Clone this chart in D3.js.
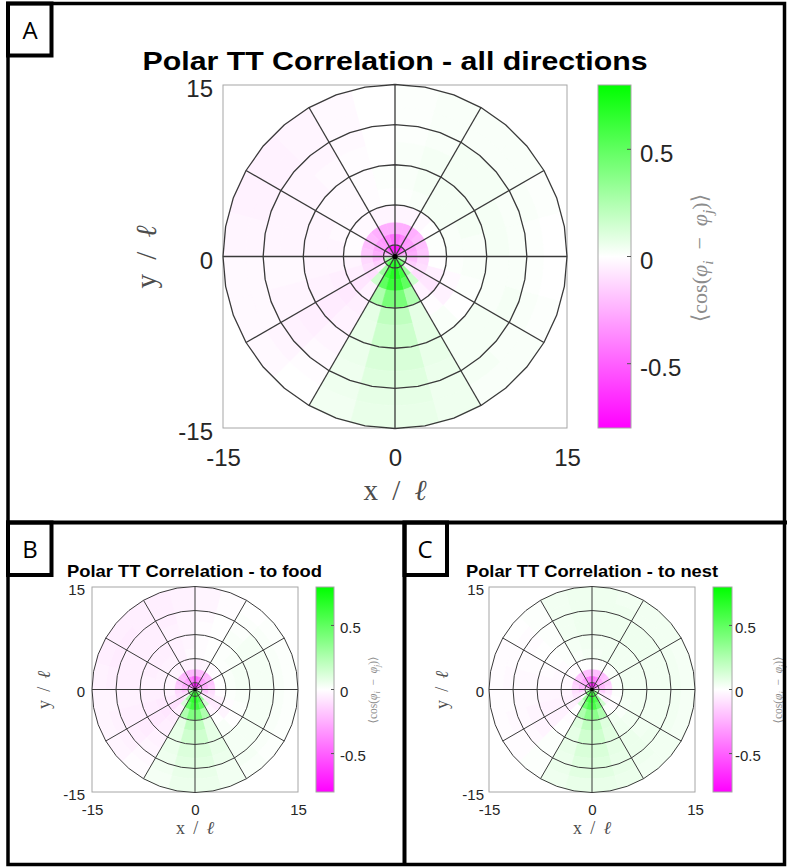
<!DOCTYPE html>
<html>
<head>
<meta charset="utf-8">
<script src="https://cdn.jsdelivr.net/npm/d3@7"></script>
<style>
  html, body { margin: 0; padding: 0; background: #fff; }
  svg { display: block; }
</style>
</head>
<body>
<svg id="fig" width="787" height="867"></svg>
<script>
// ---- data -------------------------------------------------------------
// radial bin edges (in units of ℓ) and 24 angular bins of 15°, counted
// counter-clockwise from the +x axis
const ringEdges = [0, 1, 2, 3, 4.5, 6, 8, 10, 11.5, 13, 15];
const sectorDeg = 15;
const gridRings = [1, 4.5, 8, 11.5, 15];
const spokeAngles = [0, 30, 60, 90, 120, 150, 180, 210, 240, 270, 300, 330];
const axisTicks = [-15, 0, 15];
const colorTicks = [-0.5, 0, 0.5];
const colorRange = [-0.8, 0.8];

// <cos(phi_i - phi_j)> per ring (rows) and sector (columns)
const corrAll = [
  [-0.15,-0.30,-0.45,-0.60,-0.72,-0.75,-0.75,-0.72,-0.60,-0.45,-0.30,-0.15, 0.10,0.25,0.40,0.55,0.65,0.70,0.70,0.65,0.55,0.40,0.25,0.10],
  [-0.25,-0.28,-0.30,-0.32,-0.38,-0.45,-0.45,-0.38,-0.32,-0.30,-0.28,-0.25, -0.20,-0.15,-0.05,0.30,0.60,0.68,0.68,0.60,0.30,-0.05,-0.15,-0.20],
  [-0.18,-0.20,-0.22,-0.25,-0.25,-0.25,-0.25,-0.25,-0.25,-0.22,-0.20,-0.18, -0.12,-0.10,-0.10,0.15,0.50,0.62,0.62,0.50,0.15,-0.10,-0.10,-0.12],
  [0.01,0.01,0.00,-0.02,-0.03,-0.03,-0.03,-0.03,-0.02,-0.02,-0.01,-0.01, -0.03,-0.05,-0.08,-0.04,0.25,0.42,0.42,0.25,-0.04,-0.08,-0.05,0.00],
  [0.02,0.02,0.03,0.03,0.02,0.01,0.00,-0.01,-0.02,-0.02,-0.02,-0.03, -0.03,-0.05,-0.07,-0.05,0.08,0.20,0.20,0.08,-0.01,-0.04,-0.02,0.01],
  [0.02,0.03,0.03,0.03,0.03,0.02,0.01,-0.01,-0.02,-0.02,-0.03,-0.03, -0.03,-0.04,-0.06,-0.04,0.07,0.16,0.16,0.08,0.02,0.00,0.01,0.02],
  [0.03,0.03,0.03,0.03,0.03,0.02,0.00,-0.01,-0.02,-0.03,-0.03,-0.03, -0.02,-0.03,-0.05,-0.03,0.06,0.12,0.12,0.07,0.03,0.03,0.02,0.02],
  [0.02,0.02,0.03,0.03,0.02,0.01,0.00,-0.02,-0.03,-0.03,-0.03,-0.03, -0.02,-0.03,-0.04,-0.02,0.05,0.10,0.10,0.06,0.03,0.03,0.03,0.02],
  [0.01,0.02,0.02,0.02,0.02,0.01,0.00,-0.02,-0.03,-0.04,-0.04,-0.03, -0.02,-0.02,-0.03,-0.01,0.05,0.08,0.08,0.05,0.03,0.02,0.02,0.01],
  [0.00,0.01,0.02,0.02,0.02,0.01,0.00,-0.02,-0.03,-0.04,-0.04,-0.03, -0.02,-0.02,-0.02,0.00,0.04,0.07,0.07,0.05,0.02,0.02,0.01,0.00]
];

const corrFood = [
  [-0.15,-0.30,-0.45,-0.60,-0.72,-0.78,-0.78,-0.72,-0.60,-0.45,-0.30,-0.15, 0.10,0.25,0.40,0.55,0.65,0.72,0.72,0.65,0.55,0.40,0.25,0.10],
  [-0.22,-0.25,-0.28,-0.32,-0.40,-0.48,-0.48,-0.40,-0.32,-0.28,-0.25,-0.22, -0.18,-0.12,-0.05,0.30,0.58,0.66,0.66,0.58,0.30,-0.05,-0.12,-0.18],
  [-0.15,-0.18,-0.20,-0.22,-0.22,-0.22,-0.22,-0.22,-0.22,-0.20,-0.18,-0.15, -0.12,-0.10,-0.10,0.12,0.48,0.60,0.60,0.48,0.12,-0.08,-0.08,-0.10],
  [0.00,0.00,-0.01,-0.02,-0.03,-0.04,-0.04,-0.04,-0.04,-0.03,-0.03,-0.03, -0.04,-0.06,-0.09,-0.05,0.25,0.40,0.40,0.25,-0.03,-0.06,-0.04,-0.01],
  [0.02,0.02,0.01,0.01,0.00,-0.01,-0.02,-0.04,-0.04,-0.04,-0.04,-0.04, -0.05,-0.07,-0.08,-0.06,0.08,0.20,0.20,0.08,0.00,-0.03,-0.01,0.01],
  [0.03,0.03,0.02,0.01,0.00,-0.01,-0.03,-0.04,-0.05,-0.05,-0.05,-0.04, -0.05,-0.06,-0.07,-0.05,0.07,0.15,0.15,0.08,0.02,0.00,0.01,0.02],
  [0.03,0.03,0.03,0.02,0.00,-0.01,-0.03,-0.04,-0.05,-0.05,-0.05,-0.05, -0.04,-0.05,-0.06,-0.04,0.06,0.11,0.11,0.07,0.03,0.03,0.03,0.03],
  [0.03,0.03,0.03,0.01,0.00,-0.02,-0.03,-0.05,-0.05,-0.05,-0.05,-0.05, -0.04,-0.05,-0.05,-0.03,0.05,0.09,0.09,0.06,0.03,0.03,0.03,0.03],
  [0.02,0.02,0.02,0.01,-0.01,-0.03,-0.04,-0.05,-0.05,-0.06,-0.06,-0.05, -0.03,-0.04,-0.04,-0.02,0.04,0.07,0.07,0.04,0.03,0.02,0.02,0.02],
  [0.01,0.01,0.01,0.00,-0.01,-0.03,-0.04,-0.05,-0.05,-0.05,-0.05,-0.04, -0.03,-0.03,-0.03,-0.01,0.03,0.06,0.06,0.04,0.02,0.01,0.01,0.01]
];

const corrNest = [
  [-0.15,-0.30,-0.45,-0.58,-0.70,-0.74,-0.74,-0.70,-0.58,-0.45,-0.30,-0.15, 0.10,0.25,0.40,0.52,0.62,0.68,0.68,0.62,0.52,0.40,0.25,0.10],
  [-0.20,-0.22,-0.25,-0.30,-0.38,-0.45,-0.45,-0.38,-0.30,-0.25,-0.22,-0.20, -0.15,-0.08,0.00,0.30,0.55,0.62,0.62,0.55,0.30,0.00,-0.08,-0.15],
  [-0.12,-0.15,-0.18,-0.20,-0.20,-0.20,-0.20,-0.20,-0.20,-0.18,-0.15,-0.12, -0.10,-0.08,-0.06,0.14,0.45,0.56,0.56,0.45,0.14,-0.04,-0.05,-0.08],
  [0.02,0.02,0.02,0.01,0.01,0.00,0.00,0.00,-0.01,-0.01,-0.02,-0.02, -0.03,-0.04,-0.04,0.00,0.25,0.36,0.36,0.25,0.01,-0.01,0.00,0.01],
  [0.04,0.04,0.04,0.04,0.04,0.03,0.03,0.02,0.01,-0.01,-0.02,-0.02, -0.03,-0.04,-0.04,-0.01,0.10,0.20,0.20,0.10,0.04,0.02,0.03,0.04],
  [0.04,0.04,0.04,0.04,0.04,0.04,0.04,0.03,0.01,0.00,-0.01,-0.02, -0.03,-0.04,-0.04,0.00,0.08,0.15,0.15,0.09,0.05,0.04,0.04,0.04],
  [0.04,0.04,0.05,0.05,0.05,0.05,0.05,0.04,0.01,0.00,-0.01,-0.02, -0.02,-0.03,-0.03,0.01,0.07,0.12,0.12,0.08,0.06,0.04,0.04,0.04],
  [0.04,0.04,0.05,0.05,0.05,0.05,0.05,0.04,0.01,-0.01,-0.01,-0.02, -0.02,-0.02,-0.02,0.01,0.06,0.10,0.10,0.07,0.06,0.05,0.04,0.04],
  [0.04,0.04,0.04,0.04,0.05,0.05,0.05,0.04,0.01,-0.01,-0.01,-0.02, -0.01,-0.02,-0.01,0.01,0.06,0.09,0.09,0.07,0.05,0.04,0.04,0.04],
  [0.03,0.03,0.04,0.04,0.04,0.05,0.05,0.04,0.01,0.00,-0.01,-0.01, -0.01,-0.01,-0.01,0.01,0.05,0.07,0.07,0.06,0.04,0.04,0.03,0.03]
];

// ---- layout of the three panels --------------------------------------
const panels = [
  { letter: "A", title: "Polar TT Correlation - all directions", data: corrAll,
    box: [223, 567, 85, 428], cb: [598, 631],
    titleX: 395, titleY: 69.5, titleSize: 26.5, titleLen: 505,
    tickSize: 24, yPad: 10, xPad: 21, cbPad: 9, tickDy: 4,
    labSize: 29, xLab: [395, 500], yLab: [156, 257], labLen: 63,
    cbLab: [707, 258], cbLabSize: 22, lineW: 1.3 },
  { letter: "B", title: "Polar TT Correlation - to food", data: corrFood,
    box: [92, 298, 587, 792], cb: [316, 334],
    titleX: 194.5, titleY: 577, titleSize: 17, titleLen: 255,
    tickSize: 15, yPad: 7, xPad: 12.5, cbPad: 6, tickDy: 2.5,
    labSize: 18, xLab: [195, 834], yLab: [50, 690], labLen: 38,
    cbLab: [377, 690], cbLabSize: 11.5, lineW: 1.0 },
  { letter: "C", title: "Polar TT Correlation - to nest", data: corrNest,
    box: [489, 695, 587, 792], cb: [713, 732],
    titleX: 592, titleY: 577, titleSize: 17, titleLen: 252,
    tickSize: 15, yPad: 5, xPad: 12.5, cbPad: 3, tickDy: 2.5,
    labSize: 18, xLab: [592, 834], yLab: [448, 690], labLen: 38,
    cbLab: [782, 690], cbLabSize: 11.5, lineW: 1.0 }
];

const sans = "'Liberation Sans', Arial, Helvetica, sans-serif";
const serif = "'Liberation Serif', 'DejaVu Serif', 'Times New Roman', serif";

const svg = d3.select("#fig");
const defs = svg.append("defs");

// diverging magenta – white – green colormap
const color = d3.scaleLinear()
  .domain([colorRange[0], 0, colorRange[1]])
  .range(["#ff00ff", "#ffffff", "#00ff00"])
  .clamp(true);

const toRad = d => d * Math.PI / 180;

panels.forEach((p, pi) => {
  const [x0, x1, y0, y1] = p.box;
  const x = d3.scaleLinear().domain([-15, 15]).range([x0, x1]);
  const y = d3.scaleLinear().domain([-15, 15]).range([y1, y0]);
  const r = d3.scaleLinear().domain([0, 15]).range([0, (x1 - x0) / 2]);
  const cx = x(0), cy = y(0);
  const g = svg.append("g");

  // axes frame
  g.append("rect")
    .attr("x", x0).attr("y", y0)
    .attr("width", x1 - x0).attr("height", y1 - y0)
    .attr("fill", "#fff").attr("stroke", "#a6a6a6").attr("stroke-width", 1);

  // correlation cells
  const cells = [];
  p.data.forEach((row, i) => row.forEach((v, j) => cells.push({ i, j, v })));
  const arc = d3.arc()
    .innerRadius(d => r(ringEdges[d.i]))
    .outerRadius(d => r(ringEdges[d.i + 1]))
    // d3.arc measures angles clockwise from 12 o'clock
    .startAngle(d => Math.PI / 2 - toRad((d.j + 1) * sectorDeg))
    .endAngle(d => Math.PI / 2 - toRad(d.j * sectorDeg));
  const cg = g.append("g").attr("transform", `translate(${cx},${cy})`);
  cg.selectAll("path.cell").data(cells).join("path")
    .attr("class", "cell")
    .attr("d", arc)
    .attr("fill", d => color(d.v))
    .attr("stroke", d => color(d.v))
    .attr("stroke-width", 0.6);

  // polar mesh: rings drawn as 10° polylines, plus spokes
  const ringLine = d3.line();
  const mg = g.append("g").attr("transform", `translate(${cx},${cy})`)
    .attr("fill", "none").attr("stroke", "#3a3a3a")
    .attr("stroke-width", p.lineW).attr("stroke-linejoin", "round");
  mg.selectAll("path.ring").data(gridRings).join("path")
    .attr("class", "ring")
    .attr("d", rr => ringLine(d3.range(0, 361, 10).map(a =>
      [r(rr) * Math.cos(toRad(a)), -r(rr) * Math.sin(toRad(a))])) + "Z");
  mg.selectAll("line.spoke").data(spokeAngles).join("line")
    .attr("class", "spoke")
    .attr("x1", 0).attr("y1", 0)
    .attr("x2", a => r(15) * Math.cos(toRad(a)))
    .attr("y2", a => -r(15) * Math.sin(toRad(a)));
  mg.append("circle").attr("r", pi === 0 ? 2.6 : 1.8)
    .attr("fill", "#000").attr("stroke", "none");

  // tick labels
  const styleAxis = sel => {
    sel.select(".domain").remove();
    sel.selectAll("text")
      .attr("font-family", sans).attr("font-size", p.tickSize)
      .attr("fill", "#262626");
  };
  g.append("g").attr("transform", `translate(${x0},0)`)
    .call(d3.axisLeft(y).tickValues(axisTicks).tickSize(0)
      .tickPadding(p.yPad).tickFormat(String))
    .call(styleAxis)
    .selectAll("text").attr("transform", `translate(0,${p.tickDy})`);
  g.append("g").attr("transform", `translate(0,${y1})`)
    .call(d3.axisBottom(x).tickValues(axisTicks).tickSize(0)
      .tickPadding(p.xPad).tickFormat(String))
    .call(styleAxis);

  // colorbar
  const [c0, c1] = p.cb;
  const cs = d3.scaleLinear().domain(colorRange).range([y1, y0]);
  const gid = "cbgrad" + pi;
  const grad = defs.append("linearGradient").attr("id", gid)
    .attr("x1", 0).attr("y1", 1).attr("x2", 0).attr("y2", 0);
  grad.selectAll("stop").data(d3.range(0, 1.0001, 0.05)).join("stop")
    .attr("offset", t => t)
    .attr("stop-color", t => color(colorRange[0] + t * (colorRange[1] - colorRange[0])));
  g.append("rect")
    .attr("x", c0).attr("y", y0).attr("width", c1 - c0).attr("height", y1 - y0)
    .attr("fill", `url(#${gid})`).attr("stroke", "#a6a6a6").attr("stroke-width", 1);
  g.selectAll("line.cbtick").data(colorTicks).join("line")
    .attr("class", "cbtick")
    .attr("x1", c1 - (pi === 0 ? 4 : 3)).attr("x2", c1)
    .attr("y1", d => cs(d)).attr("y2", d => cs(d))
    .attr("stroke", "#555").attr("stroke-width", 1);
  g.append("g").attr("transform", `translate(${c1},0)`)
    .call(d3.axisRight(cs).tickValues(colorTicks).tickSize(0)
      .tickPadding(p.cbPad).tickFormat(String))
    .call(styleAxis)
    .selectAll("text").attr("transform", `translate(0,${p.tickDy})`);

  // title
  g.append("text")
    .attr("x", p.titleX).attr("y", p.titleY)
    .attr("text-anchor", "middle")
    .attr("font-family", sans).attr("font-weight", "bold")
    .attr("font-size", p.titleSize)
    .attr("textLength", p.titleLen).attr("lengthAdjust", "spacingAndGlyphs")
    .attr("fill", "#000")
    .text(p.title);

  // axis labels
  const axisLabel = (tx, ty, rot, txt) => {
    const t = g.append("text")
      .attr("transform", `translate(${tx},${ty}) rotate(${rot})`)
      .attr("text-anchor", "middle")
      .attr("font-family", serif).attr("font-size", p.labSize)
      .attr("fill", "#4d4d4d")
      .attr("textLength", p.labLen).attr("lengthAdjust", "spacing");
    t.append("tspan").text(txt + " / ");
    t.append("tspan").attr("font-style", "italic").text("ℓ");
  };
  axisLabel(p.xLab[0], p.xLab[1], 0, "x");
  axisLabel(p.yLab[0], p.yLab[1], -90, "y");

  // colorbar label  ⟨cos(φi − φj)⟩
  const cl = g.append("text")
    .attr("transform", `translate(${p.cbLab[0]},${p.cbLab[1]}) rotate(-90)`)
    .attr("text-anchor", "middle")
    .attr("font-family", serif).attr("font-size", p.cbLabSize)
    .attr("fill", "#8c8c8c");
  cl.append("tspan").text("⟨cos(");
  cl.append("tspan").attr("font-style", "italic").text("φ");
  cl.append("tspan").attr("font-style", "italic").attr("font-size", p.cbLabSize * 0.7)
    .attr("dy", p.cbLabSize * 0.25).text("i");
  cl.append("tspan").attr("dy", -p.cbLabSize * 0.25).text("\u2002−\u2002");
  cl.append("tspan").attr("font-style", "italic").text("φ");
  cl.append("tspan").attr("font-style", "italic").attr("font-size", p.cbLabSize * 0.7)
    .attr("dy", p.cbLabSize * 0.25).text("j");
  cl.append("tspan").attr("dy", -p.cbLabSize * 0.25).text(")⟩");
});

// ---- figure frame and panel letters ------------------------------------
const frame = svg.append("g").attr("fill", "none").attr("stroke", "#000");
frame.append("rect").attr("x", 8).attr("y", 3.5).attr("width", 776.5).attr("height", 861)
  .attr("stroke-width", 3.5);
frame.append("line").attr("x1", 6).attr("x2", 787).attr("y1", 522.5).attr("y2", 522.5)
  .attr("stroke-width", 4);
frame.append("line").attr("x1", 404.5).attr("x2", 404.5).attr("y1", 521).attr("y2", 866)
  .attr("stroke-width", 4);

const letterBoxes = [
  { t: "A", x: 8, y: 3.5, w: 43.5, h: 52, tx: 30, ty: 39 },
  { t: "B", x: 8, y: 522.5, w: 43.5, h: 52.5, tx: 30, ty: 558 },
  { t: "C", x: 404.5, y: 522.5, w: 42.5, h: 52.5, tx: 425, ty: 558 }
];
letterBoxes.forEach(b => {
  frame.append("rect").attr("x", b.x).attr("y", b.y).attr("width", b.w).attr("height", b.h)
    .attr("stroke-width", 4);
  svg.append("text").attr("x", b.tx).attr("y", b.ty)
    .attr("text-anchor", "middle")
    .attr("font-family", "'Open Sans', 'Noto Sans', sans-serif")
    .attr("font-size", 24).attr("fill", "#000")
    .text(b.t);
});
</script>
</body>
</html>
